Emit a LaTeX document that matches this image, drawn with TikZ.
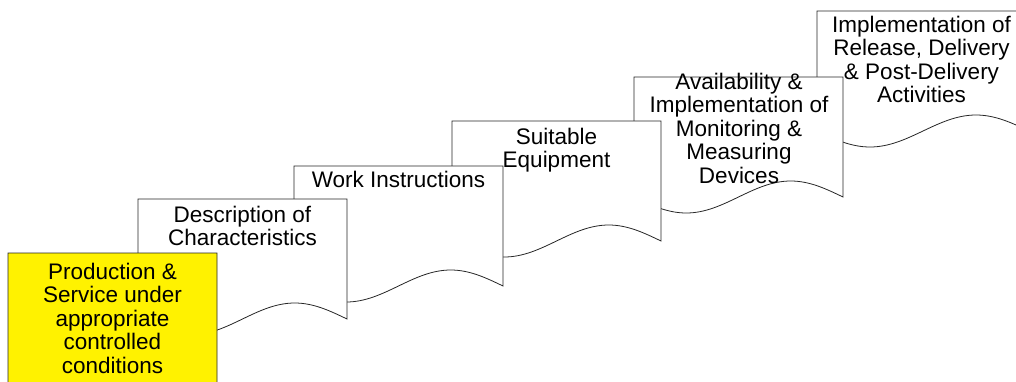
\documentclass[tikz,border=0pt]{standalone}
\usepackage{fontspec}
\setmainfont{Liberation Sans}
\usetikzlibrary{positioning}

\begin{document}
\begin{tikzpicture}[
  x=1pt, y=-1pt,
  doc/.style={draw=black!85, line width=0.8pt, fill=white},
  hilite/.style={doc, fill=yellow},
  doctext/.style={anchor=north, inner sep=0pt, align=center,
    font=\fontsize{22.5}{23.5}\selectfont}
]
\clip (0,0) rectangle (1016,381);

% pages, back to front
\draw[doc] (817,11) -- ++(212,0) -- ++(0,120) sin ++(-53,-16) cos ++(-53,16) sin ++(-53,16) cos ++(-53,-16) -- cycle;
\draw[doc] (634,77) -- ++(209,0) -- ++(0,120) sin ++(-52.25,-16) cos ++(-52.25,16) sin ++(-52.25,16) cos ++(-52.25,-16) -- cycle;
\draw[doc] (452,121) -- ++(209,0) -- ++(0,120) sin ++(-52.25,-16) cos ++(-52.25,16) sin ++(-52.25,16) cos ++(-52.25,-16) -- cycle;
\draw[doc] (294,166) -- ++(209,0) -- ++(0,120) sin ++(-52.25,-16) cos ++(-52.25,16) sin ++(-52.25,16) cos ++(-52.25,-16) -- cycle;
\draw[doc] (138,199) -- ++(209,0) -- ++(0,120) sin ++(-52.25,-16) cos ++(-52.25,16) sin ++(-52.25,16) cos ++(-52.25,-16) -- cycle;
\draw[hilite] (8,253) -- ++(209,0) -- ++(0,150) sin ++(-52.25,-16) cos ++(-52.25,16) sin ++(-52.25,16) cos ++(-52.25,-16) -- cycle;

% texts
\node[doctext] (release) at (921.5,15.5) {\strut Implementation of\\Release, Delivery\\\& Post-Delivery\\Activities};
\node[doctext] (monitor) at (739,72.5) {\strut Availability \&\\Implementation of\\Monitoring \&\\Measuring\\Devices};
\node[doctext] (equip) at (556.5,127.5) {\strut Suitable\\Equipment};
\node[doctext] (work) at (398.5,170.5) {\strut Work Instructions};
\node[doctext] (desc) at (242.5,205.5) {\strut Description of\\Characteristics};
\node[doctext] (prod) at (112.5,262.5) {\strut Production \&\\Service under\\appropriate\\controlled\\conditions};
\end{tikzpicture}
\end{document}
